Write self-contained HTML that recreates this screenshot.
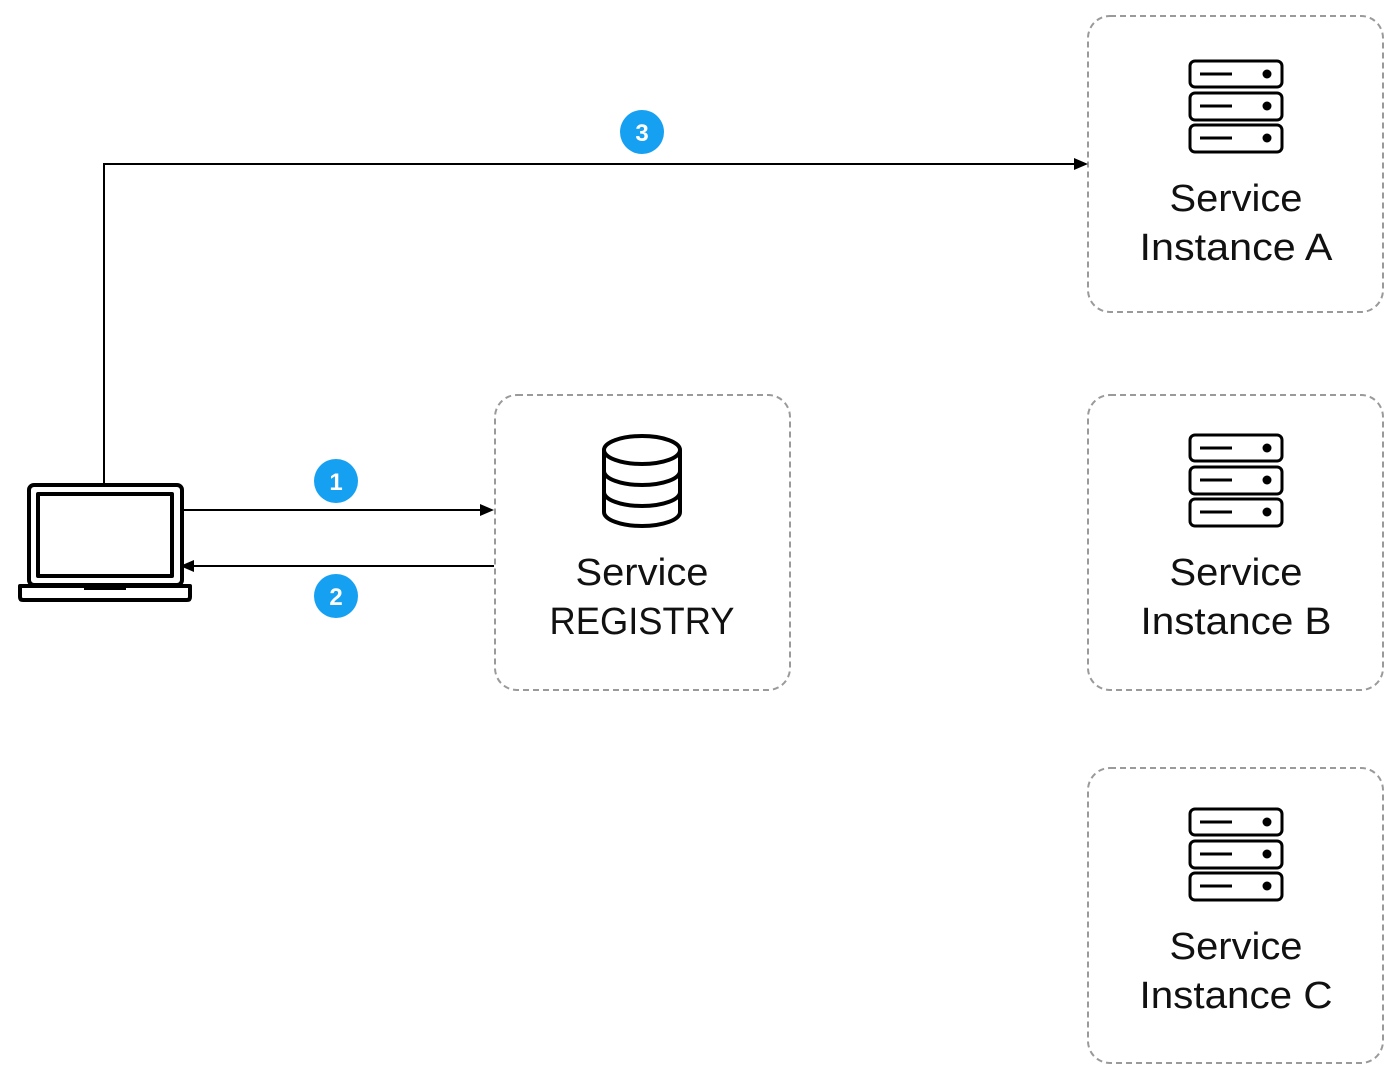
<!DOCTYPE html>
<html><head><style>body{margin:0;background:#fff}svg{display:block}text{font-family:"Liberation Sans",sans-serif}</style></head><body>
<svg width="1400" height="1082" viewBox="0 0 1400 1082" xmlns="http://www.w3.org/2000/svg">
<defs>
<g id="srv" fill="none" stroke="#000" stroke-width="3">
<rect x="1190" y="61" width="92" height="26" rx="5"/><rect x="1190" y="93" width="92" height="27" rx="5"/><rect x="1190" y="125" width="92" height="27" rx="5"/>
<line x1="1200" y1="74" x2="1232" y2="74" stroke-width="3"/><line x1="1200" y1="106" x2="1232" y2="106" stroke-width="3"/><line x1="1200" y1="138" x2="1232" y2="138" stroke-width="3"/>
<circle cx="1267" cy="74" r="4.5" fill="#000" stroke="none"/><circle cx="1267" cy="106" r="4.5" fill="#000" stroke="none"/><circle cx="1267" cy="138" r="4.5" fill="#000" stroke="none"/>
</g>
</defs>
<g fill="none" stroke="#9a9a9a" stroke-width="2" stroke-dasharray="6,4">
<rect x="1088" y="16" width="295" height="296" rx="22"/>
<rect x="1088" y="395" width="295" height="295" rx="22"/>
<rect x="1088" y="768" width="295" height="295" rx="22"/>
<rect x="495" y="395" width="295" height="295" rx="22"/>
</g>
<use href="#srv"/>
<use href="#srv" transform="translate(0,374)"/>
<use href="#srv" transform="translate(0,748)"/>
<g font-size="38" text-anchor="middle" fill="#111">
<text x="1236" y="211" textLength="133" lengthAdjust="spacingAndGlyphs">Service</text><text x="1236" y="260" textLength="193" lengthAdjust="spacingAndGlyphs">Instance A</text>
<text x="1236" y="585" textLength="133" lengthAdjust="spacingAndGlyphs">Service</text><text x="1236" y="634" textLength="191" lengthAdjust="spacingAndGlyphs">Instance B</text>
<text x="1236" y="959" textLength="133" lengthAdjust="spacingAndGlyphs">Service</text><text x="1236" y="1008" textLength="193" lengthAdjust="spacingAndGlyphs">Instance C</text>
<text x="642" y="585" textLength="133" lengthAdjust="spacingAndGlyphs">Service</text><text x="642" y="634" textLength="185" lengthAdjust="spacingAndGlyphs">REGISTRY</text>
</g>
<g fill="none" stroke="#000" stroke-width="4">
<ellipse cx="642" cy="450" rx="38" ry="14"/>
<path d="M604 450 V512 A38 14 0 0 0 680 512 V450"/>
<path d="M604 471 A38 14 0 0 0 680 471"/>
<path d="M604 492 A38 14 0 0 0 680 492"/>
</g>
<g fill="none" stroke="#000" stroke-width="4" stroke-linejoin="round">
<rect x="29" y="485" width="153" height="100" rx="5"/>
<rect x="38" y="494" width="134" height="82"/>
<path d="M20 586 H190 V597 Q190 600 187 600 H23 Q20 600 20 597 Z"/>
</g>
<rect x="84" y="585" width="42" height="5" fill="#000"/>
<g stroke="#000" stroke-width="2" fill="none">
<path d="M104 483 V164 H1080"/>
<line x1="183" y1="510" x2="484" y2="510"/>
<line x1="494" y1="566" x2="190" y2="566"/>
</g>
<polygon points="1088,164 1074,158 1074,170" fill="#000"/>
<polygon points="494,510 480,504 480,516" fill="#000"/>
<polygon points="180,566 194,560 194,572" fill="#000"/>
<g fill="#16a0f2"><circle cx="336" cy="481" r="22"/><circle cx="336" cy="596" r="22"/><circle cx="642" cy="132" r="22"/></g>
<g fill="#fff" font-size="24" font-weight="bold" text-anchor="middle">
<text x="336" y="490">1</text><text x="336" y="605">2</text><text x="642" y="141">3</text>
</g>
</svg>
</body></html>
